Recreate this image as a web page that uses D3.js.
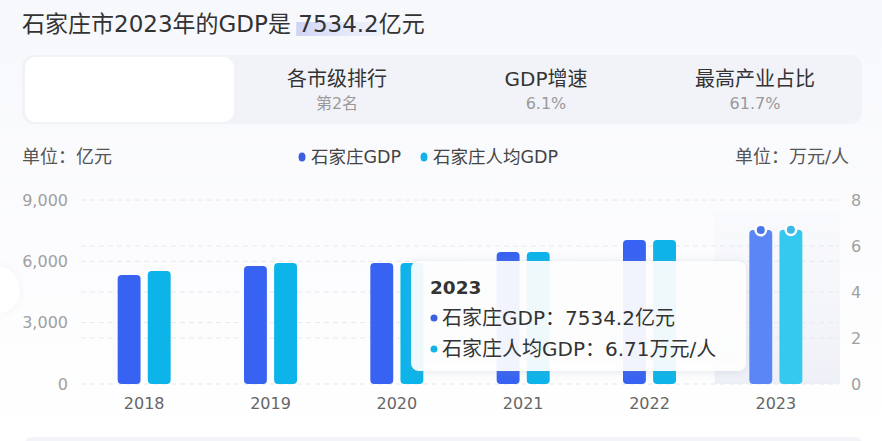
<!DOCTYPE html>
<html><head><meta charset="utf-8">
<script src="https://cdn.jsdelivr.net/npm/d3@7/dist/d3.min.js"></script>
<style>
html,body{margin:0;padding:0;background:#fff;}
svg{display:block;font-family:"DejaVu Sans","Noto Sans CJK SC",sans-serif;}
</style></head><body>
<svg id="c" width="882" height="441"></svg>
<script>
const years = ["2018","2019","2020","2021","2022","2023"];
const gdp = [5330, 5770, 5920, 6460, 7040, 7534.2];
const gdpPerCapita = [4.91, 5.26, 5.26, 5.74, 6.26, 6.71];
const leftTicks = [0, 3000, 6000, 9000];
const rightTicks = [0, 2, 4, 6, 8];
const seriesNames = ["石家庄GDP", "石家庄人均GDP"];
const statTitles = ["各市级排行", "GDP增速", "最高产业占比"];
const statValues = ["第2名", "6.1%", "61.7%"];
const highlight = "2023";
const FONT = "'DejaVu Sans','Noto Sans CJK SC',sans-serif";

const svg = d3.select("#c");
const defs = svg.append("defs");
const bgGrad = defs.append("linearGradient").attr("id","bg").attr("x1",0).attr("y1",0).attr("x2",0).attr("y2",1);
bgGrad.append("stop").attr("offset","0%").attr("stop-color","#f7f8fc");
bgGrad.append("stop").attr("offset","100%").attr("stop-color","#ffffff");
const hl = defs.append("linearGradient").attr("id","hl").attr("x1",0).attr("y1",0).attr("x2",1).attr("y2",0);
hl.append("stop").attr("offset","0%").attr("stop-color","#cdd2f4").attr("stop-opacity",0.95);
hl.append("stop").attr("offset","100%").attr("stop-color","#e3e6fa").attr("stop-opacity",0.4);
const band = defs.append("linearGradient").attr("id","band").attr("x1",0).attr("y1",0).attr("x2",0).attr("y2",1);
band.append("stop").attr("offset","0%").attr("stop-color","#f4f5fa").attr("stop-opacity",0.3);
band.append("stop").attr("offset","100%").attr("stop-color","#eef0f7").attr("stop-opacity",1);
const sh = defs.append("filter").attr("id","sh").attr("x","-20%").attr("y","-30%").attr("width","140%").attr("height","160%");
sh.append("feDropShadow").attr("dx",0).attr("dy",1).attr("stdDeviation",4).attr("flood-color","#8a93b0").attr("flood-opacity",0.25);
const sh2 = defs.append("filter").attr("id","sh2").attr("x","-50%").attr("y","-50%").attr("width","200%").attr("height","200%");
sh2.append("feDropShadow").attr("dx",0).attr("dy",0).attr("stdDeviation",3).attr("flood-color","#a0a6bb").attr("flood-opacity",0.12);

svg.append("rect").attr("width",882).attr("height",441).attr("fill","url(#bg)");

// title
const hlRect = svg.append("rect").attr("y",22).attr("height",14).attr("fill","url(#hl)");
const titleStr = "石家庄市2023年的GDP是 7534.2亿元";
const title = svg.append("text").attr("x",22).attr("y",32).attr("font-size",23).attr("fill","#333").text(titleStr);
{
  const i0 = titleStr.indexOf("7534.2"), i1 = i0 + 5;
  const n = title.node();
  const sx = n.getStartPositionOfChar(i0).x, ex = n.getEndPositionOfChar(i1).x;
  hlRect.attr("x", sx - 2).attr("width", ex - sx + 4);
}

// stats card
svg.append("rect").attr("x",22).attr("y",55).attr("width",840).attr("height",69).attr("rx",12).attr("fill","#f2f3f8");
svg.append("rect").attr("x",25).attr("y",57).attr("width",209).attr("height",65).attr("rx",11).attr("fill","#ffffff");
const centers = [337, 546, 755];
statTitles.forEach((t,i)=>{
  svg.append("text").attr("x",centers[i]).attr("y",86).attr("text-anchor","middle").attr("font-size",20).attr("fill","#333").text(t);
  svg.append("text").attr("x",centers[i]).attr("y",109).attr("text-anchor","middle").attr("font-size",16).attr("fill","#999").text(statValues[i]);
});

// units & legend
svg.append("text").attr("x",22).attr("y",163).attr("font-size",18).attr("fill","#555").text("单位：亿元");
svg.append("text").attr("x",849).attr("y",163).attr("text-anchor","end").attr("font-size",18).attr("fill","#555").text("单位：万元/人");
const colors = ["#3762f2","#0cb4ea"];
const hiColors = ["#5a86f6","#36c9ef"];
const legX = [302, 424];
seriesNames.forEach((n,i)=>{
  svg.append("ellipse").attr("cx",legX[i]).attr("cy",157).attr("rx",3.5).attr("ry",4.5).attr("fill",i?"#14b2e6":"#3a5fe0");
  svg.append("text").attr("x",legX[i]+9).attr("y",163).attr("font-size",17.5).attr("fill","#444").text(n);
});

// scales
const x = d3.scaleBand().domain(years).range([81,839]);
const x1 = d3.scaleBand().domain([0,1]).range([-26.5,26.5]).paddingInner(0.24);
const yL = d3.scaleLinear().domain([0,9000]).range([384,200]);
const yR = d3.scaleLinear().domain([0,8]).range([384,200]);

// highlight band
svg.append("rect").attr("x",x(highlight)+2).attr("y",212).attr("width",x.bandwidth()-1).attr("height",384-212).attr("fill","url(#band)");

// gridlines
const g = svg.append("g");
leftTicks.forEach(t=>g.append("line").attr("x1",81).attr("x2",839).attr("y1",yL(t)).attr("y2",yL(t)));
rightTicks.filter(t=>t!==0&&t!==8).forEach(t=>g.append("line").attr("x1",81).attr("x2",839).attr("y1",yR(t)).attr("y2",yR(t)));
g.selectAll("line").attr("stroke","#e6e8ef").attr("stroke-dasharray","5,4").attr("stroke-width",1);

// axes
const axL = svg.append("g").attr("transform","translate(70,0)")
  .call(d3.axisLeft(yL).tickValues(leftTicks).tickFormat(d3.format(",")).tickSize(0).tickPadding(2));
const axR = svg.append("g").attr("transform","translate(849,0)")
  .call(d3.axisRight(yR).tickValues(rightTicks).tickSize(0).tickPadding(2));
const axB = svg.append("g").attr("transform","translate(0,391)")
  .call(d3.axisBottom(x).tickSize(0).tickPadding(4));
[axL,axR,axB].forEach(a=>{a.select(".domain").remove();a.selectAll("text").attr("font-family",FONT).attr("font-size",16);});
axL.selectAll("text").attr("fill","#a0a0a0");
axR.selectAll("text").attr("fill","#a0a0a0");
axB.selectAll("text").attr("fill","#666").attr("dy","0.9em");

// bars
const data = years.map((yr,i)=>({yr, v:[yL(gdp[i]), yR(gdpPerCapita[i])]}));
const bars = svg.append("g");
data.forEach(d=>{
  d.v.forEach((yy,k)=>{
    const isH = d.yr===highlight;
    const bx = x(d.yr)+x.bandwidth()/2 + x1(k);
    bars.append("rect").attr("x",bx).attr("y",yy).attr("width",x1.bandwidth()).attr("height",384-yy)
      .attr("rx",4).attr("fill",isH?hiColors[k]:colors[k]);
    if(isH){
      bars.append("circle").attr("cx",bx+x1.bandwidth()/2).attr("cy",yy).attr("r",6.5).attr("fill","#fff");
      bars.append("circle").attr("cx",bx+x1.bandwidth()/2).attr("cy",yy).attr("r",4).attr("fill",k?"#3cb8e8":"#4a78e8");
    }
  });
});

// left faint button
svg.append("circle").attr("cx",-4).attr("cy",290).attr("r",24).attr("fill","#fff").attr("filter","url(#sh2)");

// tooltip
const tt = svg.append("g");
tt.append("rect").attr("x",411).attr("y",261).attr("width",335).attr("height",110).attr("rx",8)
  .attr("fill","#ffffff").attr("fill-opacity",0.92).attr("filter","url(#sh)");
tt.append("text").attr("x",430).attr("y",294).attr("font-size",18.5).attr("font-weight","bold").attr("fill","#333").text(highlight);
const last = years.indexOf(highlight);
const ttLines = [seriesNames[0]+"："+gdp[last]+"亿元", seriesNames[1]+"："+gdpPerCapita[last]+"万元/人"];
ttLines.forEach((t,i)=>{
  tt.append("circle").attr("cx",434).attr("cy",318+i*31).attr("r",3.5).attr("fill",i?"#14b2e6":"#3a5fe0");
  tt.append("text").attr("x",442).attr("y",325+i*31).attr("font-size",20).attr("fill","#333").text(t);
});

// bottom strip
svg.append("rect").attr("x",25).attr("y",437).attr("width",837).attr("height",20).attr("rx",6).attr("fill","#f3f4f8");
</script>
</body></html>
